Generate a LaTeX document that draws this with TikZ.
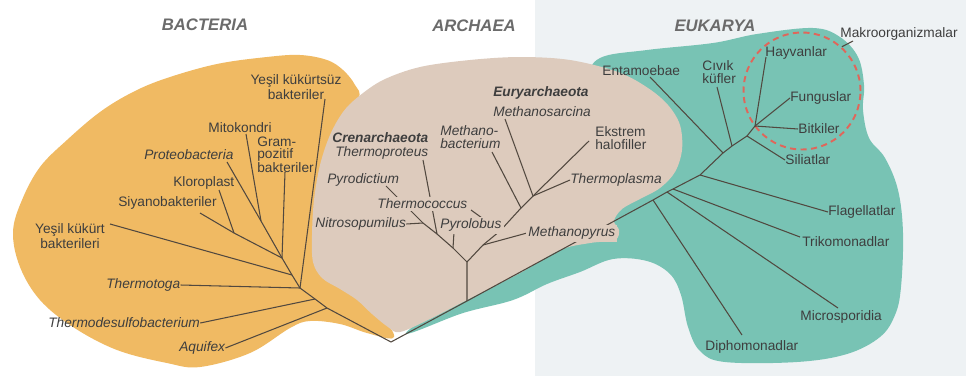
\documentclass[tikz,border=0pt]{standalone}
\usepackage{fontspec}
\setmainfont{Liberation Sans}
\usepackage{tikz}
\usepackage{xcolor}
\definecolor{bactFill}{HTML}{F0BA63}
\definecolor{archFill}{HTML}{DDCBBD}
\definecolor{eukFill}{HTML}{78C3B4}
\definecolor{pageTint}{HTML}{EEF2F4}
\definecolor{treeLine}{HTML}{51483F}
\definecolor{labelText}{HTML}{3E3E3E}
\definecolor{domainText}{HTML}{6B6B6B}
\definecolor{macroRing}{HTML}{E0665A}

\tikzset{
  treeline/.style={draw=treeLine, line width=0.6pt},
  taxon/.style={font=\fontsize{7.8}{7.2}\selectfont, text=labelText, inner sep=0pt},
  genus/.style={taxon, font=\fontsize{7.8}{7.2}\selectfont\itshape},
  phylum/.style={taxon, font=\fontsize{7.8}{7.2}\selectfont\bfseries\itshape},
  domainname/.style={font=\fontsize{9.5}{11}\selectfont\bfseries\itshape, text=domainText, inner sep=0pt},
  labelbox/.style={fill=archFill, inner sep=1.2pt}
}

\begin{document}
\begin{tikzpicture}[x=0.02cm, y=-0.02cm]
  \useasboundingbox (0,0) rectangle (966,376);
  \fill[white] (0,0) rectangle (966,376);
  \fill[pageTint] (535,0) rectangle (966,376);
  \fill[bactFill] plot[smooth cycle, tension=0.6] coordinates {(13,232) (22,200) (40,167) (67,140) (100,112) (133,92) (167,78) (217,64) (267,57) (300,55) (327,60) (343,70) (355,85) (358,100) (330,140) (320,200) (340,260) (385,320) (393,338) (367,333) (340,324) (310,321) (290,328) (250,353) (200,367) (167,363) (117,350) (73,327) (40,300) (20,267)};
  \fill[eukFill] plot[smooth cycle, tension=0.6] coordinates {(406,333) (463,313) (513,300) (547,284) (580,272) (613,259) (647,261) (670,274) (681,295) (688,327) (700,351) (725,362) (797,362) (847,354) (880,337) (895,315) (901,287) (903,233) (898,190) (885,158) (869,138) (863,110) (864,85) (858,57) (840,37) (813,28) (757,34) (713,43) (647,50) (600,58) (590,80) (600,130) (560,200) (470,285)};
  \fill[archFill] plot[smooth cycle, tension=0.55] coordinates {(400,332) (430,319) (467,300) (520,273) (560,250) (590,243) (615,240) (619,230) (614,221) (622,209) (640,199) (660,188) (675,172) (682,150) (680,125) (668,105) (648,88) (618,72) (570,60) (520,57) (470,60) (420,67) (383,80) (358,97) (343,112) (330,135) (320,165) (314,200) (312,235) (313,262) (322,278) (340,289) (357,300) (372,314) (388,327)};

  \node[domainname] (bacteria) at (205,25) {BACTERIA};
  \node[domainname] (archaea) at (474,26) {ARCHAEA};
  \node[domainname] (eukarya) at (715,26) {EUKARYA};

  \node[taxon, align=center] (kukurtsuz) at (296,87) {Yeşil kükürtsüz\\bakteriler};
  \node[taxon] (mitokondri) at (240,128) {Mitokondri};
  \node[taxon, align=left, anchor=west, font=\fontsize{7.8}{6.8}\selectfont] (grampoz) at (257,155) {Gram-\\pozitif\\bakteriler};
  \node[genus, anchor=west] (proteo) at (144,155) {Proteobacteria};
  \node[taxon, anchor=west] (kloroplast) at (173,183) {Kloroplast};
  \node[taxon, anchor=west] (siyano) at (118,203) {Siyanobakteriler};
  \node[taxon, align=center] (yesilkukurt) at (70,236) {Yeşil kükürt\\bakterileri};
  \node[genus, anchor=west] (thermotoga) at (106,285) {Thermotoga};
  \node[genus, anchor=west] (thermodesulfo) at (48,323) {Thermodesulfobacterium};
  \node[genus, anchor=west] (aquifex) at (179,348) {Aquifex};

  \node[phylum, anchor=west] (crenarch) at (332,138) {Crenarchaeota};
  \node[genus, anchor=west] (thermoproteus) at (335,153) {Thermoproteus};
  \node[genus, anchor=west] (pyrodictium) at (327,180) {Pyrodictium};
  \node[genus, anchor=west] (nitroso) at (315,224) {Nitrosopumilus};
  \node[genus, anchor=west, align=left] (methbact) at (440,137) {Methano-\\bacterium};
  \node[phylum, anchor=west] (euryarch) at (493,93) {Euryarchaeota};
  \node[genus, anchor=west] (methsarc) at (493,112) {Methanosarcina};
  \node[taxon, anchor=west, align=left] (ekstrem) at (595,138) {Ekstrem\\halofiller};
  \node[genus, anchor=west] (thermoplasma) at (570,180) {Thermoplasma};

  \node[taxon, anchor=west] (entamoebae) at (602,71) {Entamoebae};
  \node[taxon, anchor=west, align=left] (civik) at (702,72) {Cıvık\\küfler};
  \node[taxon, anchor=west] (hayvanlar) at (765,53) {Hayvanlar};
  \node[taxon, anchor=west] (funguslar) at (790,98) {Funguslar};
  \node[taxon, anchor=west] (bitkiler) at (798,129) {Bitkiler};
  \node[taxon, anchor=west] (siliatlar) at (785,160) {Siliatlar};
  \node[taxon, anchor=west] (flagellatlar) at (828,212) {Flagellatlar};
  \node[taxon, anchor=west] (trikomonadlar) at (802,242) {Trikomonadlar};
  \node[taxon, anchor=west] (microsporidia) at (800,317) {Microsporidia};
  \node[taxon, anchor=west] (diphomonadlar) at (705,347) {Diphomonadlar};
  \node[taxon, anchor=west] (makro) at (840,34) {Makroorganizmalar};

  \node[circle, draw=macroRing, line width=1.1pt, dash pattern=on 3.5pt off 2.5pt, minimum size=2.34cm] (makroRing) at (802,91) {};

  \coordinate (root) at (391,342);
  \coordinate (b1) at (327,308);
  \coordinate (b2) at (315,299);
  \coordinate (b3) at (300,288);
  \coordinate (b4) at (292,275);
  \coordinate (b5) at (282,258);
  \coordinate (bMito) at (261,221);
  \coordinate (bKloro) at (234,233);
  \coordinate (tKukurtsuz) at (325,99);
  \coordinate (tMito) at (246,134);
  \coordinate (tGram) at (285,172);
  \coordinate (tProteo) at (227,162);
  \coordinate (tKloro) at (219,190);
  \coordinate (tSiyano) at (200,213);
  \coordinate (tYesil) at (110,224);

  \coordinate (aRoot) at (467,301);
  \coordinate (aNode) at (467,262);
  \coordinate (c1) at (453,248);
  \coordinate (c2) at (437,234);
  \coordinate (c3) at (423,223);
  \coordinate (e1) at (483,245);
  \coordinate (e2) at (500,231);
  \coordinate (e3) at (521,208);
  \coordinate (e4) at (533,196);
  \coordinate (tProteus) at (423,160);
  \coordinate (tPyrodict) at (386,186);
  \coordinate (tPyrolobus) at (454,232);
  \coordinate (tCoccus) at (471,210);
  \coordinate (tMetpyr) at (527,233);
  \coordinate (tMethbact) at (492,152);
  \coordinate (tMethsarc) at (505,119);
  \coordinate (tEkstrem) at (589,141);

  \coordinate (k1) at (653,200);
  \coordinate (k2) at (667,192);
  \coordinate (k3) at (673,189);
  \coordinate (k4) at (700,175);
  \coordinate (k5) at (723,153);
  \coordinate (k6) at (732,146);
  \coordinate (k7) at (747,136);
  \coordinate (k8) at (755,126);
  \coordinate (tDipho) at (742,335);
  \coordinate (tMicro) at (838,308);
  \coordinate (tTriko) at (800,237);
  \coordinate (tEntam) at (650,77);
  \coordinate (tCivik) at (717,87);
  \coordinate (tHayvan) at (766,57);
  \coordinate (tMakro) at (853,41);

  \draw[treeline] (b5) -- (b4) -- (b3) -- (b2) -- (b1) -- (root) -- (aRoot) -- (k1) -- (k2) -- (k3) -- (k4) -- (k5) -- (k6) -- (k7) -- (k8) -- (funguslar.west);
  \draw[treeline] (b5) -- (bMito) -- (tProteo);
  \draw[treeline] (bMito) -- (tMito);
  \draw[treeline] (b5) -- (bKloro) -- (tSiyano);
  \draw[treeline] (bKloro) -- (tKloro);
  \draw[treeline] (b5) -- (tGram);
  \draw[treeline] (b4) -- (tYesil);
  \draw[treeline] (b3) -- (thermotoga.east);
  \draw[treeline] (b3) -- (tKukurtsuz);
  \draw[treeline] (b2) -- (thermodesulfo.east);
  \draw[treeline] (b1) -- (aquifex.east);

  \draw[treeline] (aRoot) -- (aNode) -- (c1) -- (c2) -- (c3) -- (tPyrodict);
  \draw[treeline] (c1) -- (tPyrolobus);
  \draw[treeline] (c2) -- (tProteus);
  \draw[treeline] (c3) -- (nitroso.east);
  \draw[treeline] (aNode) -- (e1) -- (e2) -- (e3) -- (e4) -- (tEkstrem);
  \draw[treeline] (e1) -- (tMetpyr);
  \draw[treeline] (e2) -- (tCoccus);
  \draw[treeline] (e3) -- (tMethbact);
  \draw[treeline] (e4) -- (tMethsarc);
  \draw[treeline] (e4) -- (thermoplasma.west);

  \draw[treeline] (k1) -- (tDipho);
  \draw[treeline] (k2) -- (tMicro);
  \draw[treeline] (k3) -- (tTriko);
  \draw[treeline] (k4) -- (flagellatlar.west);
  \draw[treeline] (k5) -- (tEntam);
  \draw[treeline] (k6) -- (tCivik);
  \draw[treeline] (k7) -- (siliatlar.west);
  \draw[treeline] (k8) -- (tHayvan);
  \draw[treeline] (k8) -- (bitkiler.west);
  \draw[treeline] (tMakro) -- (makroRing.48);

  \node[genus, labelbox, anchor=west] (thermococcus) at (375,204) {Thermococcus};
  \node[genus, labelbox, anchor=west] (pyrolobus) at (438,225) {Pyrolobus};
  \node[genus, labelbox, anchor=west] (methanopyrus) at (526,233) {Methanopyrus};
\end{tikzpicture}
\end{document}
